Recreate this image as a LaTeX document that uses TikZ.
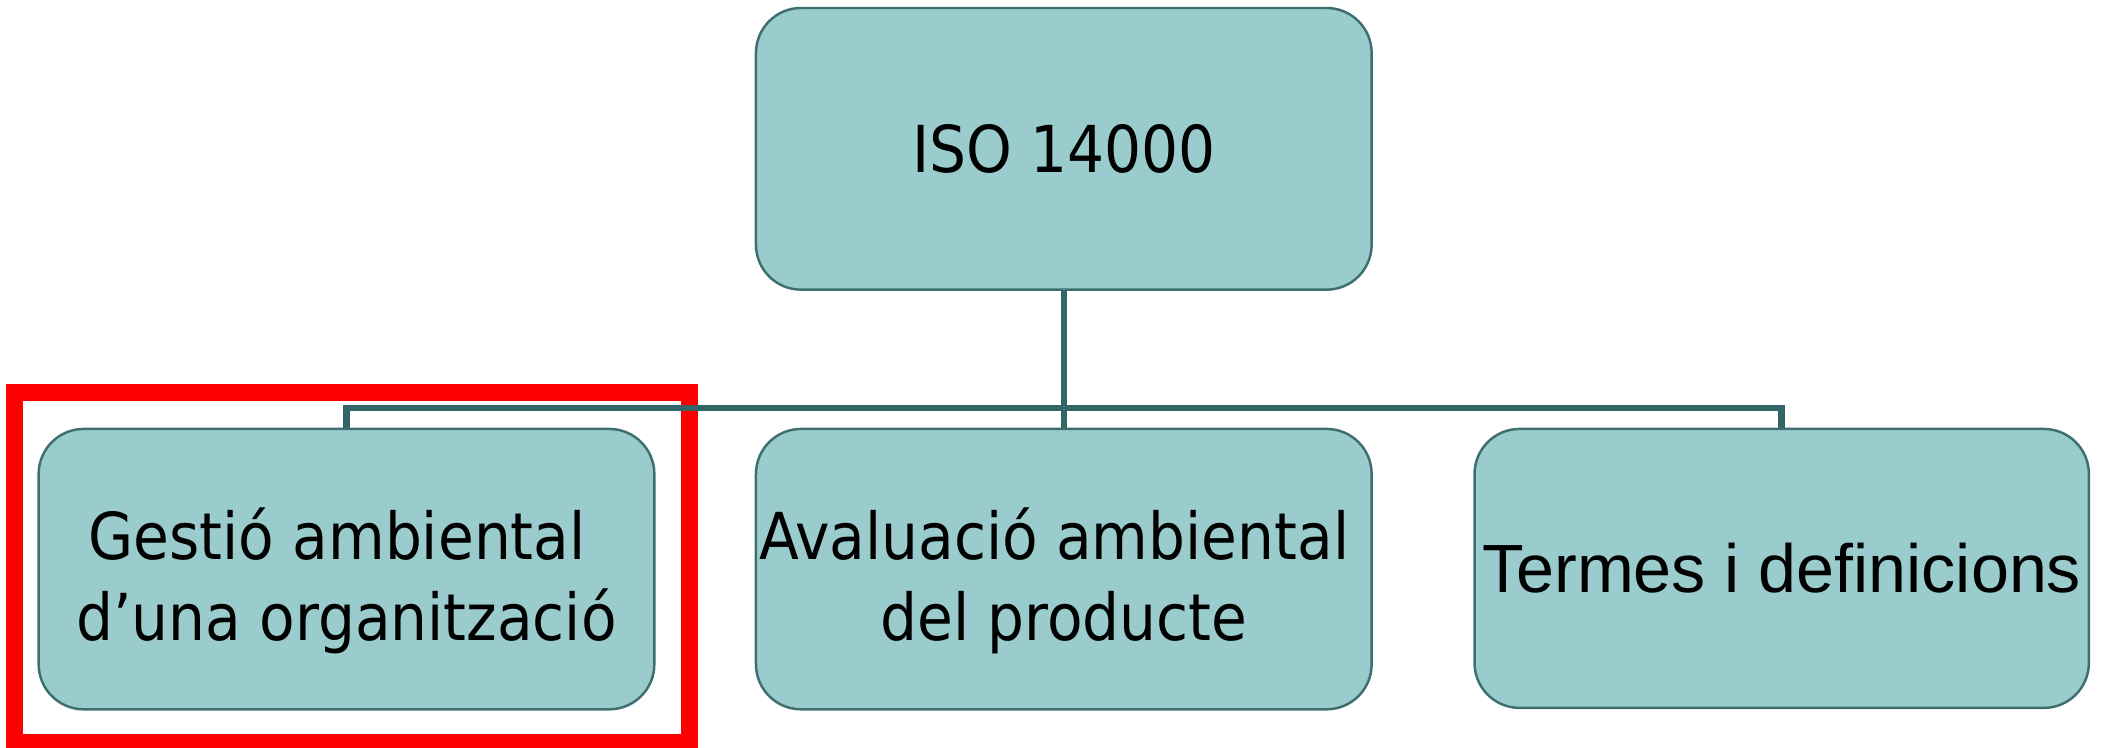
\documentclass[tikz,border=0pt]{standalone}
\usepackage{fontspec}
\setmainfont{DejaVu Sans Condensed}
\newfontfamily\arialfont{Liberation Sans}
\definecolor{boxfill}{HTML}{9BCCCD}
\definecolor{boxline}{HTML}{3D6F70}
\definecolor{conn}{HTML}{336666}
\begin{document}
\begin{tikzpicture}[x=0.01cm,y=-0.01cm,
  box/.style={draw=boxline, line width=0.7pt, fill=boxfill, rounded corners=0.45cm,
    minimum width=6.153cm, minimum height=2.802cm, inner sep=0pt, align=center,
    font=\fontsize{18.4}{23.3}\selectfont, text=black},
  connector/.style={draw=conn, line width=1.85pt},
  highlightbox/.style={draw=red, line width=4.8pt, inner sep=0pt}]
\path[use as bounding box] (0,0) rectangle (2102,747);
\coordinate (bus) at (1063.8,408);
\node[box, minimum height=2.815cm] (top) at (1063.8,148.8) {ISO 14000};
\node[box] (left) at (346.5,569.1) {\rule{0pt}{21.4pt}Gestió ambiental\hspace*{5.4pt}\\d’una organització};
\node[box] (mid) at (1063.8,569.1) {\rule{0pt}{21.4pt}Avaluació ambiental\hspace*{5.4pt}\\del producte};
\node[box, minimum width=6.140cm, minimum height=2.788cm, font=\arialfont\fontsize{19.4}{23}\selectfont] (right) at (1781.7,568.4) {Termes i definicions};
\node[highlightbox, minimum width=6.75cm, minimum height=3.495cm] (highlight) at (352,567.75) {};
\draw[connector] (top.south) -- (mid.north);
\draw[connector] (left.north) |- (bus) -| (right.north);
\end{tikzpicture}
\end{document}
